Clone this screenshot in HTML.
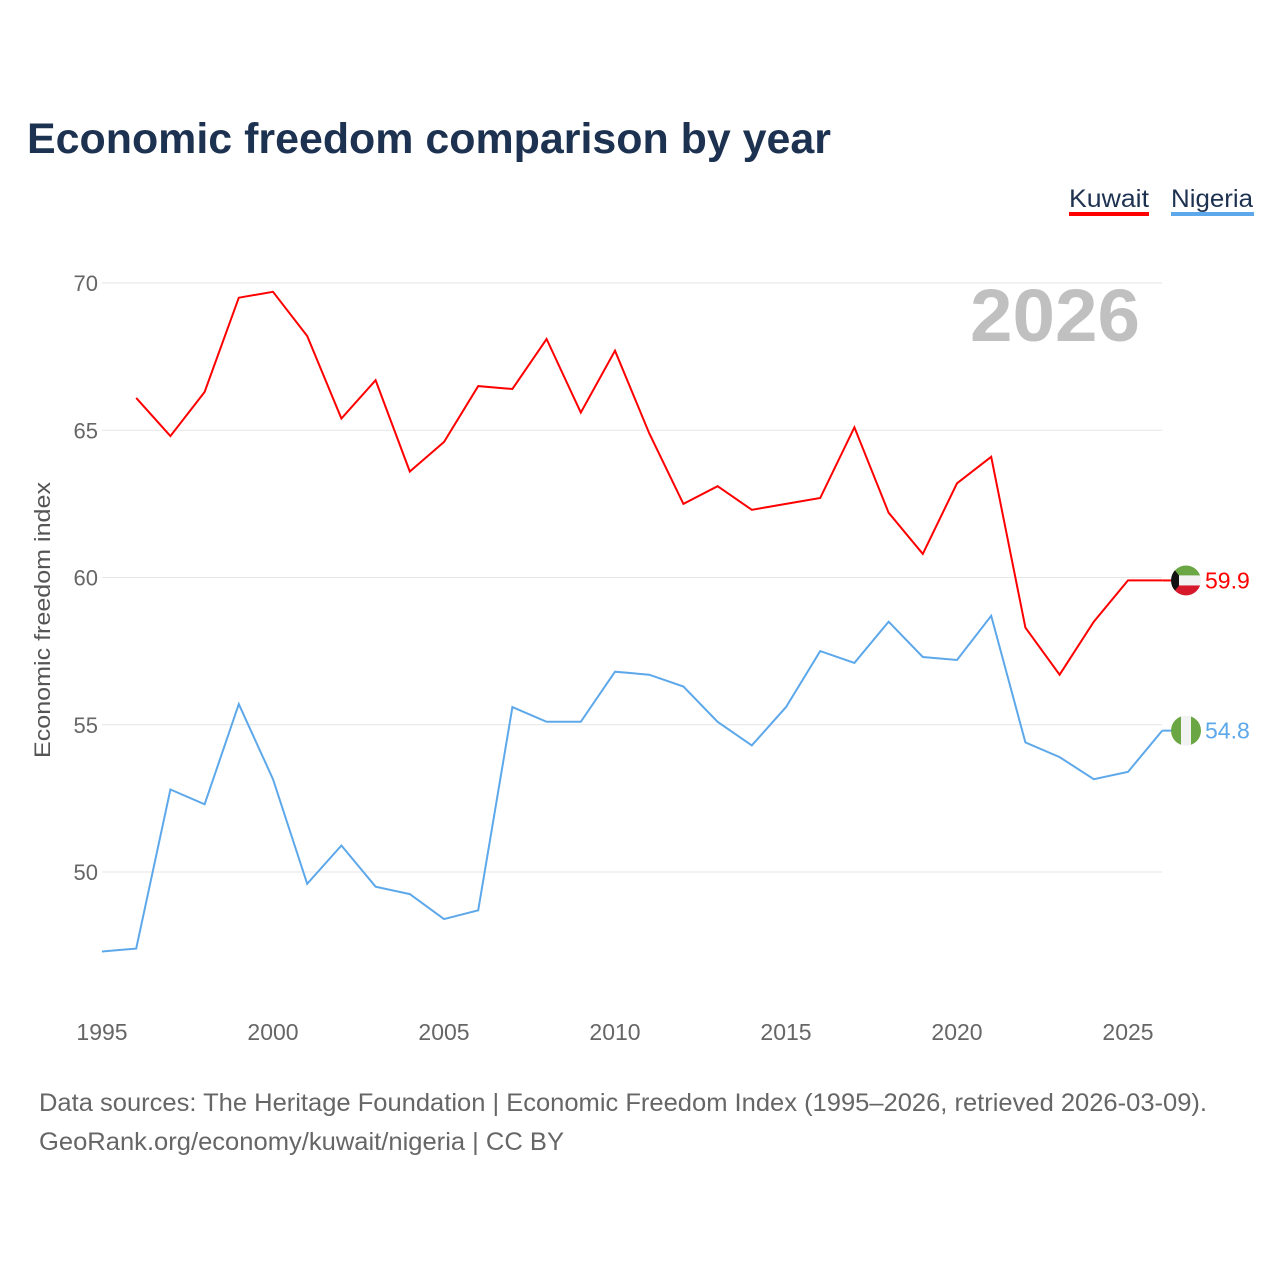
<!DOCTYPE html>
<html><head><meta charset="utf-8">
<style>
body{margin:0;background:#fff;width:1280px;height:1280px;overflow:hidden;font-family:"Liberation Sans",sans-serif;}
svg text{font-family:"Liberation Sans",sans-serif;}
</style></head>
<body>
<svg id="chart" width="1280" height="1280" xmlns="http://www.w3.org/2000/svg">
<text x="27" y="153" font-size="43" font-weight="bold" fill="#1d3150" textLength="804" lengthAdjust="spacingAndGlyphs">Economic freedom comparison by year</text>
<g>
<text x="1069" y="207" font-size="25" fill="#1d3150" textLength="80" lengthAdjust="spacingAndGlyphs">Kuwait</text>
<rect x="1069" y="212" width="80" height="4" fill="#ff0000"/>
<text x="1171" y="207" font-size="25" fill="#1d3150" textLength="82" lengthAdjust="spacingAndGlyphs">Nigeria</text>
<rect x="1171" y="212" width="83" height="4" fill="#5da8ea"/>
</g>
<text x="1140" y="341" text-anchor="end" font-size="74" font-weight="bold" fill="#c0c0c0" textLength="170" lengthAdjust="spacingAndGlyphs">2026</text>
<text transform="translate(50,620) rotate(-90)" text-anchor="middle" font-size="22" fill="#555" textLength="276" lengthAdjust="spacingAndGlyphs">Economic freedom index</text>
<g id="grid"></g><g id="series"></g>
<text x="39" y="1111" font-size="25" fill="#666" textLength="1168" lengthAdjust="spacingAndGlyphs">Data sources: The Heritage Foundation | Economic Freedom Index (1995–2026, retrieved 2026-03-09).</text>
<text x="39" y="1150" font-size="25" fill="#666" textLength="525" lengthAdjust="spacingAndGlyphs">GeoRank.org/economy/kuwait/nigeria | CC BY</text>
</svg>
<script>
const years=[1995,1996,1997,1998,1999,2000,2001,2002,2003,2004,2005,2006,2007,2008,2009,2010,2011,2012,2013,2014,2015,2016,2017,2018,2019,2020,2021,2022,2023,2024,2025,2026];
const kuwait=[null,66.1,64.8,66.3,69.5,69.7,68.2,65.4,66.7,63.6,64.6,66.5,66.4,68.1,65.6,67.7,64.9,62.5,63.1,62.3,62.5,62.7,65.1,62.2,60.8,63.2,64.1,58.3,56.7,58.5,59.9,59.9];
const nigeria=[47.3,47.4,52.8,52.3,55.7,53.15,49.6,50.9,49.5,49.25,48.4,48.7,55.6,55.1,55.1,56.8,56.7,56.3,55.1,54.3,55.6,57.5,57.1,58.5,57.3,57.2,58.7,54.4,53.9,53.15,53.4,54.8];
const yTicks=[50,55,60,65,70];
const xTicks=[1995,2000,2005,2010,2015,2020,2025];
const NS="http://www.w3.org/2000/svg";
const xs=y=>102+(y-1995)*(1128-102)/30;
const ys=v=>872-(v-50)*(872-283)/20;
function mk(t,a,p){const e=document.createElementNS(NS,t);for(const k in a)e.setAttribute(k,a[k]);p.appendChild(e);return e;}
const grid=document.getElementById('grid'),ser=document.getElementById('series');
yTicks.forEach(v=>{
 const l=mk('line',{x1:102,x2:1162,y1:ys(v),y2:ys(v),stroke:'#e6e6e6','stroke-width':1},grid);
 
 
 const t=mk('text',{x:98,y:ys(v)+8,'text-anchor':'end','font-size':22,fill:'#666'},grid);t.textContent=v;
 
 
});
xTicks.forEach(y=>{
 const t=mk('text',{x:xs(y),y:1040,'text-anchor':'middle','font-size':23,fill:'#666'},grid);t.textContent=y;
 
 
});
function line(vals,col,name){
 let d='';vals.forEach((v,i)=>{if(v==null)return;d+=(d?'L':'M')+xs(years[i]).toFixed(1)+' '+ys(v).toFixed(1);});
 const p=mk('path',{d:d,fill:'none',stroke:col,'stroke-width':2},ser);
 
 
 const last=vals[vals.length-1],yy=ys(last);
 mk('line',{x1:xs(2026),x2:1172,y1:yy,y2:yy,stroke:col,'stroke-width':2},ser);
 const t=mk('text',{x:1205,y:yy+8,'font-size':23,fill:col},ser);t.textContent=last.toFixed(1);
 
 
 return yy;
}
const ky=line(kuwait,'#ff0000','kuwait');
const ny=line(nigeria,'#5da8ea','nigeria');
const defs=mk('defs',{},ser);
const c1=mk('clipPath',{id:'ck'},defs);mk('circle',{cx:1186,cy:ky,r:15},c1);
const c2=mk('clipPath',{id:'cn'},defs);mk('circle',{cx:1186,cy:ny,r:15},c2);
const fk=mk('g',{'clip-path':'url(#ck)'},ser);


mk('rect',{x:1171,y:ky-15,width:30,height:10,fill:'#6aa644'},fk);
mk('rect',{x:1171,y:ky-5,width:30,height:10,fill:'#f2f2f2'},fk);
mk('rect',{x:1171,y:ky+5,width:30,height:10,fill:'#d5192b'},fk);
mk('polygon',{points:`1171,${ky-15} 1179,${ky-5} 1179,${ky+5} 1171,${ky+15}`,fill:'#111'},fk);
const fn=mk('g',{'clip-path':'url(#cn)'},ser);


mk('rect',{x:1171,y:ny-15,width:10,height:30,fill:'#6aa644'},fn);
mk('rect',{x:1181,y:ny-15,width:10,height:30,fill:'#f2f2f2'},fn);
mk('rect',{x:1191,y:ny-15,width:10,height:30,fill:'#6aa644'},fn);
</script>
</body></html>
